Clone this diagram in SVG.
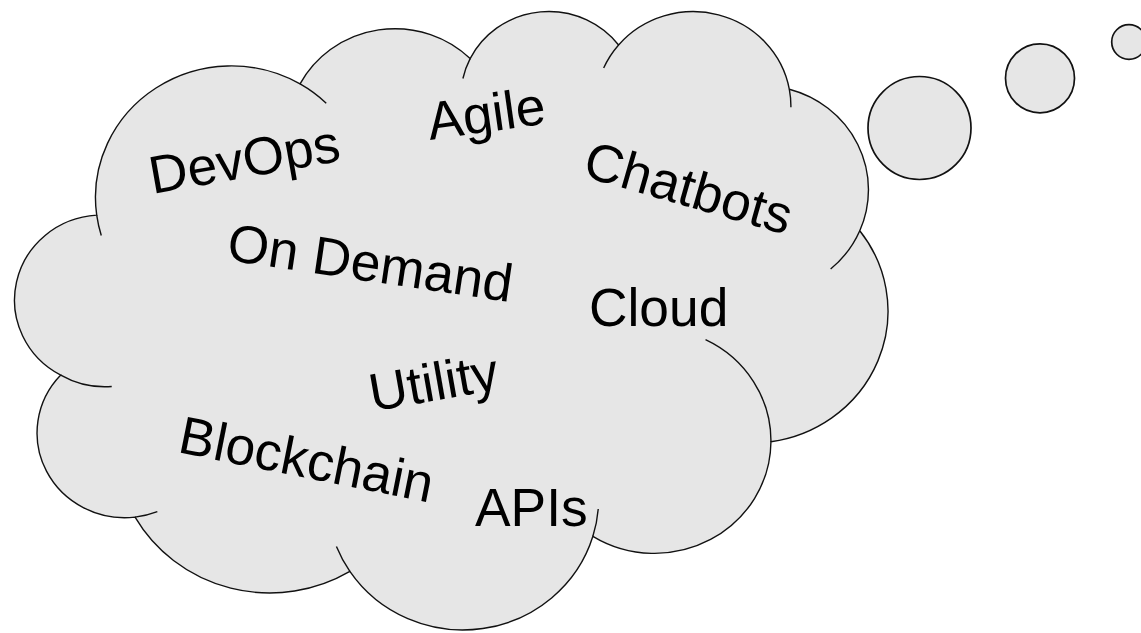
<svg xmlns="http://www.w3.org/2000/svg" width="1141" height="633" viewBox="0 0 1141 633">
  <defs>
    <style>
      .shape { fill: #e6e6e6; stroke: #111; stroke-width: 1.4; }
      .fold { fill: none; stroke: #111; stroke-width: 1.4; }
      .bubble { fill: #e6e6e6; stroke: #111; stroke-width: 1.7; }
      .word { font-family: "Liberation Sans", Arial, sans-serif; font-size: 53.33px; fill: #000; }
    </style>
  </defs>
  <rect width="1141" height="633" fill="#fff"/>

  <!-- thought cloud, drawn in a 43200 x 43200 unit frame -->
  <g id="cloud" transform="translate(18.23 9.49) scale(0.020124 0.014311)">
    <path class="shape" vector-effect="non-scaling-stroke"
      d="M3900 14370 A6753 9190 0 0 1 14005 5202 A5333 7267 0 0 1 22456 3432 A4365 5945 0 0 1 29833 2481 A4857 6595 0 0 1 38318 5576 A5333 7273 0 0 1 41818 15459 A6775 9220 0 0 1 37404 30203 A5785 7867 0 0 1 28556 36813 A6752 9215 0 0 1 16480 39264 A7720 10543 0 0 1 5805 35470 A4360 5918 0 0 1 2113 25548 A4345 5945 0 0 1 3900 14370 Z"/>
    <!-- inner lobe edges -->
    <path class="fold" vector-effect="non-scaling-stroke"
      d="M4646 26345 A4345 5945 0 0 1 2113 25548
         M6913 35088 A4360 5918 0 0 1 5805 35470
         M16480 39264 A6752 9215 0 0 1 15812 37524
         M28822 34904 A6752 9215 0 0 1 28556 36813
         M34153 23067 A5785 7867 0 0 1 37404 30203
         M41818 15459 A5333 7273 0 0 1 40370 18135
         M38318 5576 A4857 6595 0 0 1 38395 6839
         M29091 4092 A4857 6595 0 0 1 29833 2481
         M22097 4822 A4365 5945 0 0 1 22456 3432
         M14005 5202 A6753 9190 0 0 1 15305 6550
         M4127 15789 A6753 9190 0 0 1 3900 14370"/>
  </g>

  <!-- trailing thought bubbles -->
  <g id="bubbles">
    <circle id="bubble-large" class="bubble" cx="919.5" cy="128" r="51.5"/>
    <circle id="bubble-medium" class="bubble" cx="1040" cy="78.3" r="34.5"/>
    <circle id="bubble-small" class="bubble" cx="1129" cy="42" r="17.3"/>
  </g>

  <!-- words inside the cloud -->
  <g id="words">
    <g id="word-devops"><text class="word" transform="translate(152.6 194) rotate(-10)">DevOps</text></g>
    <g id="word-agile"><text class="word" transform="translate(430 140) rotate(-8)">Agile</text></g>
    <g id="word-chatbots"><text class="word" transform="translate(581 176) rotate(16)">Chatbots</text></g>
    <g id="word-ondemand"><text class="word" transform="translate(225.5 260) rotate(8.4)">On Demand</text></g>
    <g id="word-cloud"><text class="word" x="589" y="326">Cloud</text></g>
    <g id="word-utility"><text class="word" transform="translate(372.5 411.6) rotate(-10)">Utility</text></g>
    <g id="word-blockchain"><text class="word" transform="translate(176.5 452) rotate(11.3)">Blockchain</text></g>
    <g id="word-apis"><text class="word" x="475" y="526">APIs</text></g>
  </g>
</svg>
